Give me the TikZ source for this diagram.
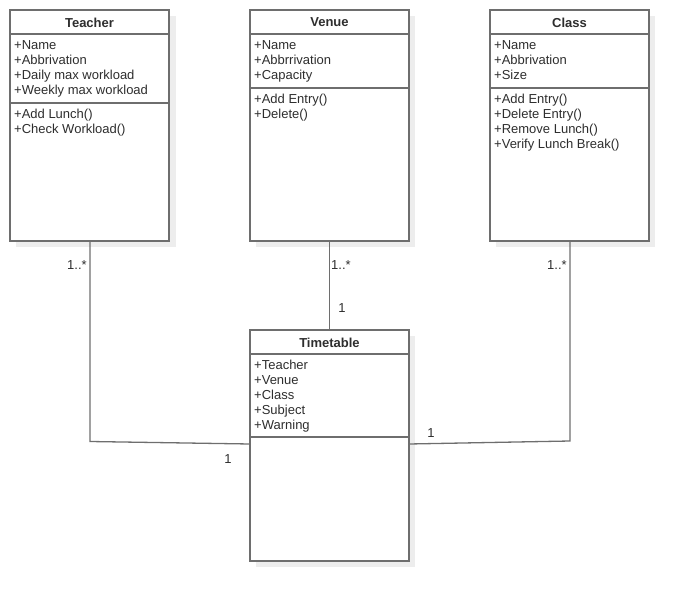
\documentclass[tikz,border=0pt]{standalone}
\usepackage{fontspec}
\setmainfont{Liberation Sans}
\definecolor{edge}{HTML}{6E6E6E}
\definecolor{txt}{HTML}{2E2E2E}
\definecolor{shade}{HTML}{EDEDED}
\tikzset{
  cls/.style={draw=edge, line width=1.3pt, fill=white, minimum width=159pt, minimum height=231pt, anchor=north west, inner sep=0pt, outer sep=0pt},
  shadowbox/.style={fill=shade, draw=none},
  title/.style={font=\fontsize{13}{15}\selectfont\bfseries, text=txt, anchor=center, inner sep=0pt},
  items/.style={font=\fontsize{13}{15}\selectfont, text=txt, anchor=north west, align=left, inner sep=0pt},
  divider/.style={draw=edge, line width=1.3pt},
  conn/.style={draw=edge, line width=1.3pt},
  mult/.style={font=\fontsize{13}{15}\selectfont, text=txt, inner sep=0pt},
}
\begin{document}
\begin{tikzpicture}[x=1pt,y=-1pt]
\useasboundingbox (0,0) rectangle (689,602);
% shadows
\fill[shadowbox] (16,16) rectangle (176,247);
\fill[shadowbox] (256,16) rectangle (415,247);
\fill[shadowbox] (496,16) rectangle (655,247);
\fill[shadowbox] (256,336) rectangle (415,567);
% boxes
\node[cls] (teacher) at (10,10) {};
\node[cls] (venue) at (250,10) {};
\node[cls] (class) at (490,10) {};
\node[cls] (tt) at (250,330) {};
% dividers
\draw[divider] (10,34) -- (169,34);
\draw[divider] (10,103) -- (169,103);
\draw[divider] (250,34) -- (409,34);
\draw[divider] (250,88) -- (409,88);
\draw[divider] (490,34) -- (649,34);
\draw[divider] (490,88) -- (649,88);
\draw[divider] (250,354) -- (409,354);
\draw[divider] (250,437) -- (409,437);
% titles
\node[title] (tT) at (89.5,22.5) {Teacher};
\node[title] (tV) at (329.5,22.5) {Venue};
\node[title] (tC) at (569.5,22.5) {Class};
\node[title] (tTT) at (329.5,342.5) {Timetable};
% attributes
\node[items] (aT) at (14,40) {+Name\\+Abbrivation\\+Daily max workload\\+Weekly max workload};
\node[items] (mT) at (14,109) {+Add Lunch()\\+Check Workload()};
\node[items] (aV) at (254,40) {+Name\\+Abbrrivation\\+Capacity};
\node[items] (mV) at (254,94) {+Add Entry()\\+Delete()};
\node[items] (aC) at (494,40) {+Name\\+Abbrivation\\+Size};
\node[items] (mC) at (494,94) {+Add Entry()\\+Delete Entry()\\+Remove Lunch()\\+Verify Lunch Break()};
\node[items] (aTT) at (254,360) {+Teacher\\+Venue\\+Class\\+Subject\\+Warning};
% connectors
\coordinate (tbend) at (90,441.5);
\coordinate (cbend) at (570,441);
\coordinate (tin) at (250,444);
\coordinate (cin) at (409,444);
\draw[conn] (teacher.south -| tbend) -- (tbend) -- (tin);
\draw[conn] (venue.south) -- (tt.north);
\draw[conn] (class.south -| cbend) -- (cbend) -- (cin);
% multiplicities
\node[mult] (m1) at (77,265.5) {1..*};
\node[mult] (m2) at (341,265.5) {1..*};
\node[mult] (m3) at (342,308.5) {1};
\node[mult] (m4) at (557,265.5) {1..*};
\node[mult] (m5) at (228,459.5) {1};
\node[mult] (m6) at (431,433.5) {1};
\end{tikzpicture}
\end{document}
